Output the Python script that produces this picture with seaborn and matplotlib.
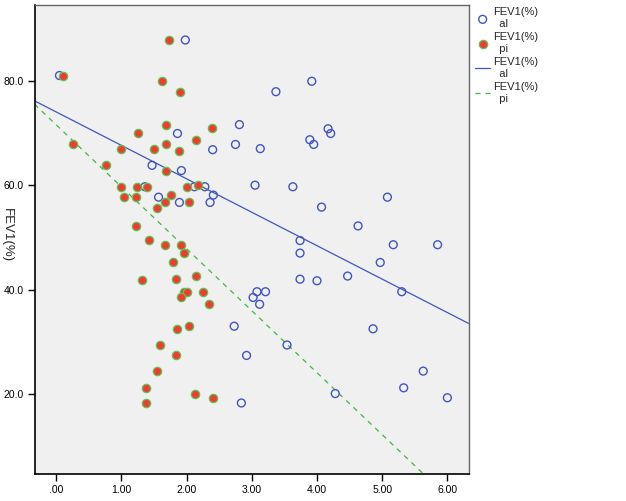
import pandas as pd
import numpy as np
import matplotlib.pyplot as plt
import seaborn as sns

# FEV1(%) against the "al" measure (open blue circles)
al_x = [0.05, 1.98, 1.86, 2.81, 2.40, 2.75, 1.47, 1.92, 1.36, 2.12,
        2.28, 2.41, 2.36, 1.57, 1.89, 2.73, 2.92, 2.84, 3.92, 3.37,
        3.13, 3.89, 3.95, 4.17, 4.21, 3.05, 3.63, 5.08, 4.07, 4.63,
        3.74, 5.17, 5.85, 3.74, 4.97, 3.74, 4.00, 4.47, 5.30, 3.08,
        3.21, 3.02, 3.12, 4.86, 3.54, 5.63, 5.33, 4.28, 6.00]
al_y = [81.0, 87.8, 69.9, 71.6, 66.8, 67.8, 63.8, 62.8, 59.7, 59.7,
        59.7, 58.1, 56.7, 57.7, 56.7, 33.0, 27.4, 18.3, 79.9, 77.9,
        67.0, 68.7, 67.8, 70.8, 69.9, 60.0, 59.7, 57.7, 55.8, 52.2,
        49.4, 48.6, 48.6, 47.0, 45.2, 42.0, 41.7, 42.6, 39.6, 39.6,
        39.6, 38.5, 37.2, 32.5, 29.4, 24.4, 21.2, 20.1, 19.3]

# FEV1(%) against the "pi" measure (red dots, green rim)
pi_x = [0.11, 1.73, 1.62, 1.90, 0.25, 0.77, 1.00, 1.25, 1.69, 2.39,
        1.50, 1.69, 1.89, 2.15, 1.69, 0.99, 1.24, 1.40, 2.00, 2.17,
        1.04, 1.23, 1.76, 1.67, 2.04, 1.55, 1.23, 1.43, 1.67, 1.92,
        1.96, 1.79, 1.32, 1.83, 2.15, 1.96, 2.00, 1.92, 2.25, 2.34,
        1.86, 2.03, 1.59, 1.84, 1.54, 1.38, 1.38, 2.13, 2.41]
pi_y = [81.0, 87.8, 79.9, 77.9, 67.8, 63.8, 66.9, 69.9, 71.6, 70.9,
        67.0, 67.8, 66.6, 68.7, 62.8, 59.7, 59.7, 59.7, 59.7, 60.0,
        57.7, 57.7, 58.1, 56.7, 56.7, 55.7, 52.2, 49.5, 48.6, 48.6,
        47.0, 45.2, 41.8, 42.0, 42.6, 39.6, 39.6, 38.5, 39.6, 37.2,
        32.4, 33.0, 29.4, 27.4, 24.4, 21.2, 18.3, 20.1, 19.3]

x_ticks = [0, 1, 2, 3, 4, 5, 6]
x_labels = ['.00', '1.00', '2.00', '3.00', '4.00', '5.00', '6.00']
y_ticks = [20, 40, 60, 80]
y_labels = ['20.0', '40.0', '60.0', '80.0']

al = pd.DataFrame({'x': al_x, 'y': al_y})
pi = pd.DataFrame({'x': pi_x, 'y': pi_y})

sns.set_style("white")
plt.rcParams['font.family'] = ['Liberation Sans', 'DejaVu Sans']

fig = plt.figure(figsize=(6.26, 5.01), dpi=100)
ax = fig.add_axes([34.5 / 626, 27 / 501, 434 / 626, 469 / 501])
ax.set_facecolor('#f0f0f0')
ax.set_xlim(-0.333, 6.324)
ax.set_ylim(4.7, 94.5)

blue = '#4055c0'
sns.scatterplot(data=al, x='x', y='y', ax=ax, marker='o', s=32,
                facecolors='none', edgecolor=blue, linewidth=1.0,
                label='FEV1(%)\n  al', zorder=3)
sns.scatterplot(data=pi, x='x', y='y', ax=ax, marker='o', s=36,
                color='#f23a33', edgecolor='#5cc452', linewidth=0.9,
                label='FEV1(%)\n  pi', zorder=4)

# fitted lines spanning the whole axis
sns.regplot(data=al, x='x', y='y', ax=ax, scatter=False, ci=None,
            truncate=False, line_kws={'color': blue, 'lw': 0.9},
            label='FEV1(%)\n  al')
sns.regplot(data=pi, x='x', y='y', ax=ax, scatter=False, ci=None,
            truncate=False, line_kws={'color': '#40b840', 'lw': 0.9,
                                      'ls': (0, (4, 4))},
            label='FEV1(%)\n  pi')
ax.set_xlim(-0.333, 6.324)
ax.set_ylim(4.7, 94.5)

ax.set_xticks(x_ticks)
ax.set_xticklabels(x_labels)
ax.set_yticks(y_ticks)
ax.set_yticklabels(y_labels)
ax.tick_params(axis='both', direction='out', length=5, width=1,
               labelsize=7.5, colors='black', pad=3)
ax.tick_params(left=True, bottom=True)
ax.set_xlabel('')
ax.set_ylabel('')
fig.text(7 / 626, 1 - 235 / 501, 'FEV1(%)', fontsize=9.5, rotation=-90,
         ha='center', va='center')

for side in ['left', 'bottom']:
    ax.spines[side].set_color('black')
    ax.spines[side].set_linewidth(1.2)
for side in ['top', 'right']:
    ax.spines[side].set_color('#666666')
    ax.spines[side].set_linewidth(1.0)

handles, labels = ax.get_legend_handles_labels()
if ax.legend_:
    ax.legend_.remove()
fig.legend(handles, labels, loc='upper left',
           bbox_to_anchor=(471 / 626, 1 - 3 / 501), frameon=False,
           fontsize=8, handlelength=1.3, handletextpad=0.3,
           labelspacing=0.3, borderaxespad=0)

plt.savefig('out.png', dpi=100)
